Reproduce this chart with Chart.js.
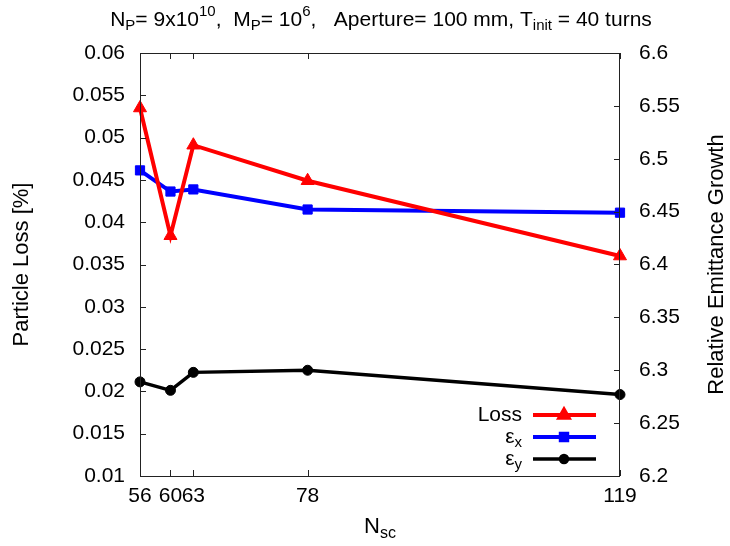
<!DOCTYPE html>
<html>
<head>
<meta charset="utf-8">
<script src="https://cdn.jsdelivr.net/npm/chart.js@4.4.0/dist/chart.umd.min.js"></script>
<style>
html, body { margin: 0; padding: 0; background: #fff; }
</style>
</head>
<body>
<canvas id="myChart" width="730" height="546"></canvas>
<script>
// N_sc values on the x axis
var nscValues = [56, 60, 63, 78, 119];
// particle loss [%] (left axis)
var lossValues = [0.0535, 0.0384, 0.0491, 0.0449, 0.0360];
// relative emittance growth (right axis)
var epsXValues = [6.489, 6.469, 6.471, 6.452, 6.449];
var epsYValues = [6.289, 6.281, 6.298, 6.300, 6.277];

var FONT = "'Liberation Sans', Arial, sans-serif";

// text with sub/superscripts, parts = [[text, kind], ...]
function richWidth(ctx, parts, size) {
    var w = 0;
    parts.forEach(function (p) {
        ctx.font = (p[1] ? Math.round(size * 0.72) : size) + "px " + FONT;
        w += ctx.measureText(p[0]).width;
    });
    return w;
}
function drawRich(ctx, parts, x, y, size, align) {
    var w = richWidth(ctx, parts, size);
    var cx = align === "center" ? x - w / 2 : (align === "right" ? x - w : x);
    ctx.textAlign = "left";
    ctx.textBaseline = "middle";
    parts.forEach(function (p) {
        var dy = 0;
        if (p[1] === "sub") dy = size * 0.3;
        if (p[1] === "sup") dy = -size * 0.38;
        ctx.font = (p[1] ? Math.round(size * 0.72) : size) + "px " + FONT;
        ctx.fillText(p[0], cx, y + dy);
        cx += ctx.measureText(p[0]).width;
    });
}

var legendLabels = [
    [["Loss", ""]],
    [["\u03b5", ""], ["x", "sub"]],
    [["\u03b5", ""], ["y", "sub"]]
];

var decorPlugin = {
    id: "decor",
    afterDraw: function (chart) {
        var ctx = chart.ctx;
        var a = chart.chartArea;
        var sx = chart.scales.x, sy = chart.scales.y, sy1 = chart.scales.y1;
        ctx.save();
        // inside ticks + frame
        ctx.strokeStyle = "#222";
        ctx.lineWidth = 1;
        ctx.beginPath();
        sy.ticks.forEach(function (t) {
            var p = Math.round(sy.getPixelForValue(t.value)) + 0.5;
            ctx.moveTo(a.left, p); ctx.lineTo(a.left + 6, p);
        });
        sy1.ticks.forEach(function (t) {
            var p = Math.round(sy1.getPixelForValue(t.value)) + 0.5;
            ctx.moveTo(a.right, p); ctx.lineTo(a.right - 6, p);
        });
        sx.ticks.forEach(function (t) {
            var p = Math.round(sx.getPixelForValue(t.value)) + 0.5;
            ctx.moveTo(p, a.bottom); ctx.lineTo(p, a.bottom - 6);
            ctx.moveTo(p, a.top); ctx.lineTo(p, a.top + 6);
        });
        ctx.stroke();
        ctx.strokeRect(a.left + 0.5, a.top + 0.5, a.right - a.left - 1, a.bottom - a.top);

        ctx.fillStyle = "#000";
        // title
        drawRich(ctx, [["N", ""], ["P", "sub"], ["= 9x10", ""], ["10", "sup"], [",  M", ""], ["P", "sub"],
            ["= 10", ""], ["6", "sup"], [",   Aperture= 100 mm, T", ""], ["init", "sub"], [" = 40 turns", ""]],
            381, 20, 21, "center");
        // axis titles
        drawRich(ctx, [["N", ""], ["sc", "sub"]], 380, 527, 22, "center");
        ctx.save();
        ctx.translate(22, (a.top + a.bottom) / 2);
        ctx.rotate(-Math.PI / 2);
        drawRich(ctx, [["Particle Loss [%]", ""]], 0, 0, 22, "center");
        ctx.restore();
        ctx.save();
        ctx.translate(717, (a.top + a.bottom) / 2);
        ctx.rotate(-Math.PI / 2);
        drawRich(ctx, [["Relative Emittance Growth", ""]], 0, 0, 22, "center");
        ctx.restore();

        // legend
        chart.data.datasets.forEach(function (ds, i) {
            var ly = 415 + i * 22;
            ctx.fillStyle = "#000";
            drawRich(ctx, legendLabels[i], 522, ly, 21, "right");
            ctx.strokeStyle = ds.borderColor;
            ctx.lineWidth = ds.borderWidth;
            ctx.beginPath();
            ctx.moveTo(533, ly); ctx.lineTo(596, ly);
            ctx.stroke();
            Chart.helpers.drawPoint(ctx, {
                pointStyle: ds.pointStyle, radius: ds.pointRadius * 0.7, borderWidth: 1
            }, 564, ly);
            ctx.fillStyle = ds.borderColor;
            ctx.fill();
        });
        ctx.restore();
    }
};

function pts(ys) {
    return nscValues.map(function (x, i) { return { x: x, y: ys[i] }; });
}

var tickFont = { family: FONT, size: 21 };

new Chart("myChart", {
    type: "line",
    data: {
        datasets: [{
            label: "Loss",
            data: pts(lossValues),
            yAxisID: "y",
            borderColor: "#ff0000",
            backgroundColor: "#ff0000",
            borderWidth: 4,
            pointStyle: "triangle",
            pointRadius: 7.5,
            pointBorderWidth: 1,
            clip: false
        }, {
            label: "\u03b5x",
            data: pts(epsXValues),
            yAxisID: "y1",
            borderColor: "#0000ff",
            backgroundColor: "#0000ff",
            borderWidth: 4,
            pointStyle: "rect",
            pointRadius: 6.5,
            pointBorderWidth: 1,
            clip: false
        }, {
            label: "\u03b5y",
            data: pts(epsYValues),
            yAxisID: "y1",
            borderColor: "#000000",
            backgroundColor: "#000000",
            borderWidth: 3.5,
            pointStyle: "circle",
            pointRadius: 5,
            pointBorderWidth: 1,
            clip: false
        }]
    },
    options: {
        responsive: false,
        animation: false,
        layout: { padding: { top: 53, left: 0, right: 0, bottom: 0 } },
        plugins: { legend: { display: false }, title: { display: false }, tooltip: { enabled: false } },
        scales: {
            x: {
                type: "linear",
                min: 56,
                max: 119,
                afterBuildTicks: function (scale) {
                    scale.ticks = nscValues.map(function (v) { return { value: v }; });
                },
                afterFit: function (scale) { scale.height = 70; },
                grid: { display: false, drawTicks: false, tickLength: 0 },
                border: { display: false },
                ticks: {
                    autoSkip: false, maxRotation: 0, padding: 8, color: "#000",
                    font: tickFont,
                    callback: function (v) { return String(v); }
                }
            },
            y: {
                position: "left",
                min: 0.01,
                max: 0.06,
                afterFit: function (scale) { scale.width = 140; },
                grid: { display: false, drawTicks: false, tickLength: 0 },
                border: { display: false },
                ticks: {
                    stepSize: 0.005, padding: 15, color: "#000",
                    font: tickFont,
                    callback: function (v) { return String(+v.toFixed(3)); }
                }
            },
            y1: {
                position: "right",
                min: 6.2,
                max: 6.6,
                afterFit: function (scale) { scale.width = 110; },
                grid: { display: false, drawTicks: false, tickLength: 0 },
                border: { display: false },
                ticks: {
                    stepSize: 0.05, padding: 19, color: "#000",
                    font: tickFont,
                    callback: function (v) { return String(+v.toFixed(2)); }
                }
            }
        }
    },
    plugins: [decorPlugin]
});
</script>
</body>
</html>
